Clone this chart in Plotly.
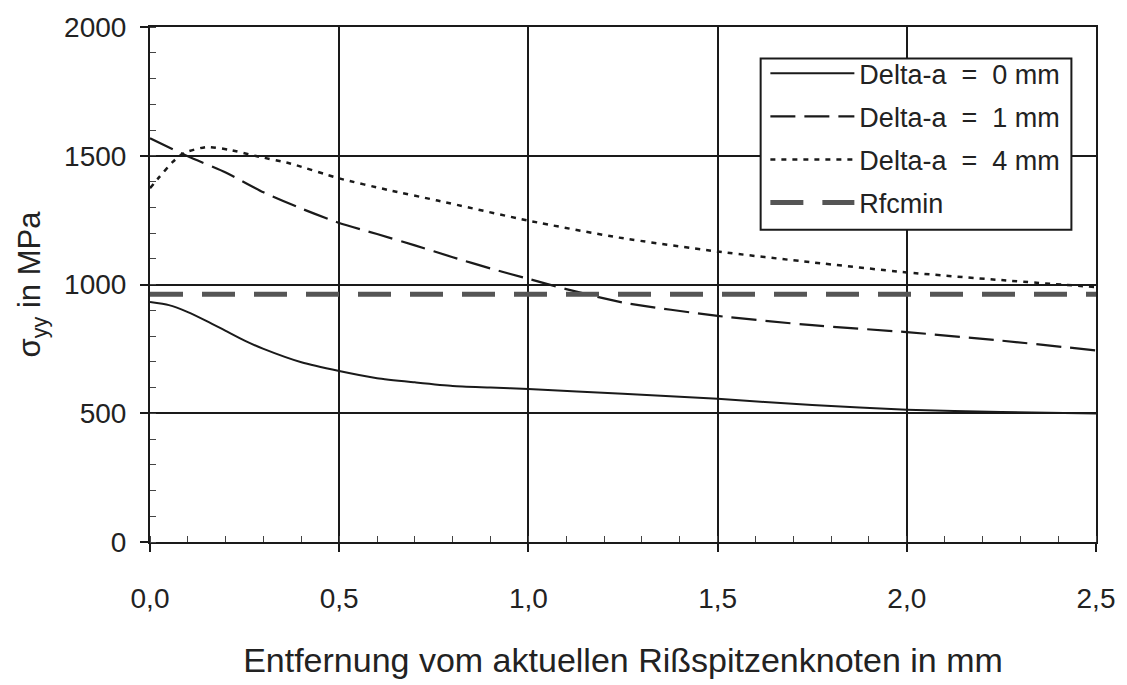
import plotly.graph_objects as go

# Distance from the current crack-tip node (mm)
x_da0 = [0, 0.05, 0.1, 0.15, 0.2, 0.25, 0.3, 0.4, 0.5, 0.6, 0.7, 0.8, 0.9, 1.0, 1.25, 1.5, 1.75, 2.0, 2.25, 2.5]
y_da0 = [932, 920, 893, 858, 820, 782, 750, 698, 664, 636, 620, 606, 600, 594, 576, 556, 532, 514, 505, 499]

x_da1 = [0, 0.1, 0.2, 0.3, 0.4, 0.5, 0.6, 0.7, 0.8, 0.9, 1.0, 1.1, 1.25, 1.5, 1.75, 2.0, 2.25, 2.5]
y_da1 = [1568, 1498, 1435, 1358, 1295, 1239, 1196, 1152, 1106, 1062, 1022, 982, 930, 878, 842, 815, 782, 744]

x_da4 = [0, 0.025, 0.06, 0.09, 0.15, 0.21, 0.28, 0.37, 0.5, 0.63, 0.76, 1.0, 1.24, 1.5, 1.75, 2.0, 2.25, 2.5]
y_da4 = [1374, 1418, 1476, 1511, 1534, 1523, 1499, 1470, 1412, 1367, 1326, 1248, 1182, 1128, 1086, 1047, 1017, 990]

x_rfc = [0, 2.5]
y_rfc = [962, 962]

x_ticks = [0, 0.5, 1.0, 1.5, 2.0, 2.5]
x_ticklabels = ["0,0", "0,5", "1,0", "1,5", "2,0", "2,5"]
y_ticks = [0, 500, 1000, 1500, 2000]

FONT = "Liberation Sans, Arial, Helvetica, sans-serif"
INK = "#1a1a1a"

fig = go.Figure()
fig.add_trace(go.Scatter(x=x_da0, y=y_da0, mode="lines", name="Delta-a\u00a0 =\u00a0 0 mm",
                         legendgroup="a", line=dict(color=INK, width=2, shape="spline", smoothing=0.6)))
fig.add_trace(go.Scatter(x=x_da1, y=y_da1, mode="lines", name="Delta-a\u00a0 =\u00a0 1 mm",
                         legendgroup="b", line=dict(color=INK, width=2.2, dash="25px,9px", shape="spline", smoothing=0.6)))
fig.add_trace(go.Scatter(x=x_da4, y=y_da4, mode="lines", name="Delta-a\u00a0 =\u00a0 4 mm",
                         legendgroup="c", line=dict(color=INK, width=2.5, dash="5px,6px", shape="spline", smoothing=0.6)))
fig.add_trace(go.Scatter(x=x_rfc, y=y_rfc, mode="lines", name="Rfcmin",
                         legendgroup="d", line=dict(color="#555555", width=5, dash="33px,19px")))

# white framed box behind the legend entries (paper coordinates)
fig.add_shape(type="rect", xref="paper", yref="paper",
              x0=0.6455, x1=0.974, y0=0.6065, y1=0.9386,
              fillcolor="white", line=dict(color=INK, width=2), layer="above")

fig.update_layout(
    width=1127, height=685,
    margin=dict(l=150, r=27, t=22, b=142),
    paper_bgcolor="white", plot_bgcolor="white",
    font=dict(family=FONT, color="#222", size=28),
    showlegend=True,
    legend=dict(
        x=0.6505, y=0.957, xanchor="left", yanchor="top",
        bgcolor="rgba(0,0,0,0)", borderwidth=0,
        font=dict(size=27, color="#222"),
        itemwidth=84, tracegroupgap=5,
    ),
    xaxis=dict(
        range=[0, 2.5], tickvals=x_ticks, ticktext=x_ticklabels,
        showline=True, linecolor=INK, linewidth=2, mirror=True,
        showgrid=True, gridcolor=INK, gridwidth=1.6,
        ticks="outside", ticklen=8, tickcolor=INK, tickwidth=1.5,
        minor=dict(dtick=0.1, ticks="inside", ticklen=6, tickcolor="#444", tickwidth=1.2, showgrid=False),
        tickfont=dict(size=28), ticklabelstandoff=22,
        zeroline=False,
        title=dict(text="Entfernung vom aktuellen Rißspitzenknoten in mm",
                   font=dict(size=34), standoff=36),
    ),
    yaxis=dict(
        range=[0, 2000], tickvals=y_ticks,
        showline=True, linecolor=INK, linewidth=2, mirror=True,
        showgrid=True, gridcolor=INK, gridwidth=1.6,
        ticks="outside", ticklen=8, tickcolor=INK, tickwidth=1.5,
        minor=dict(dtick=100, ticks="inside", ticklen=6, tickcolor="#444", tickwidth=1.2, showgrid=False),
        tickfont=dict(size=28), ticklabelstandoff=8,
        zeroline=False,
        title=dict(text="σ<sub>yy</sub> in MPa", font=dict(size=31), standoff=14),
    ),
)

fig.write_html("out.html")
